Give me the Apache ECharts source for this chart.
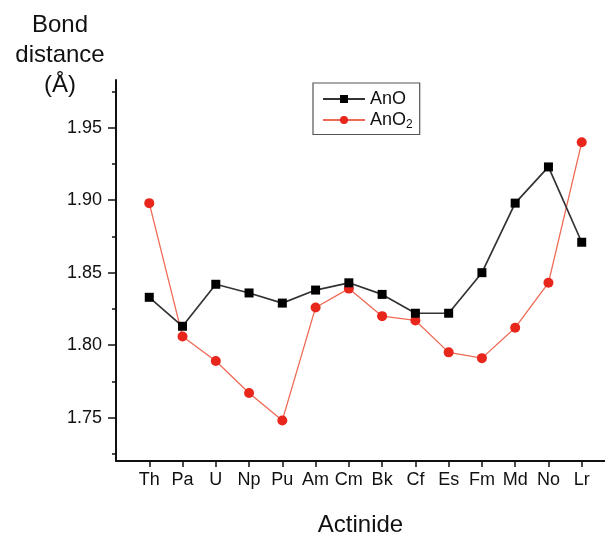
<!DOCTYPE html>
<html>
<head>
<meta charset="utf-8">
<script src="https://cdn.jsdelivr.net/npm/echarts@6/dist/echarts.min.js"></script>
<style>
html,body{margin:0;padding:0;background:#fff;}
#chart{width:605px;height:534px;}
</style>
</head>
<body>
<div id="chart"></div>
<script>
const categories = ['Th','Pa','U','Np','Pu','Am','Cm','Bk','Cf','Es','Fm','Md','No','Lr'];
const anO  = [1.833,1.813,1.842,1.836,1.829,1.838,1.843,1.835,1.822,1.822,1.850,1.898,1.923,1.871];
const anO2 = [1.898,1.806,1.789,1.767,1.748,1.826,1.839,1.820,1.817,1.795,1.791,1.812,1.843,1.940];
const yMajorTicks = [1.75,1.80,1.85,1.90,1.95];
const yMinorTicks = [1.725,1.775,1.825,1.875,1.925,1.975];
const seriesNames = ['AnO','AnO2'];

const FONT = 'Liberation Sans, Arial, sans-serif';
const chart = echarts.init(document.getElementById('chart'));
const idx = categories.map((_, i) => i);

chart.setOption({
  animation: false,
  backgroundColor: '#ffffff',
  textStyle: { fontFamily: FONT },
  grid: { left: 116, right: 0, top: 80, bottom: 73, containLabel: false, outerBoundsMode: 'none' },
  xAxis: {
    type: 'value', min: -1, max: 13.7,
    name: 'Actinide', nameLocation: 'middle', nameGap: 52,
    nameTextStyle: { fontSize: 24, color: '#111', fontFamily: FONT },
    axisLine: { show: true, onZero: false, lineStyle: { color: '#111', width: 2 } },
    axisTick: { show: true, customValues: idx, length: 6, inside: false, lineStyle: { color: '#111', width: 1.5 } },
    axisLabel: { customValues: idx, margin: 10, fontSize: 18, color: '#111', fontFamily: FONT,
      formatter: v => categories[Math.round(v)] || '' },
    splitLine: { show: false }
  },
  yAxis: [{
    type: 'value', min: 1.72, max: 1.983,
    axisLine: { show: true, onZero: false, lineStyle: { color: '#111', width: 2 } },
    axisTick: { show: true, customValues: yMajorTicks, length: 8, lineStyle: { color: '#111', width: 1.5 } },
    axisLabel: { customValues: yMajorTicks, margin: 14, fontSize: 18, color: '#111', fontFamily: FONT,
      formatter: v => v.toFixed(2) },
    splitLine: { show: false }
  }, {
    type: 'value', min: 1.72, max: 1.983, position: 'left',
    axisLine: { show: false, onZero: false },
    axisTick: { show: true, customValues: yMinorTicks, length: 4, lineStyle: { color: '#111', width: 1.5 } },
    axisLabel: { show: false },
    splitLine: { show: false }
  }],
  legend: {
    orient: 'vertical', left: 313, top: 83,
    data: seriesNames,
    itemWidth: 42, itemHeight: 10, itemGap: 3,
    padding: [7, 7, 4, 9],
    borderColor: '#555', borderWidth: 1.2, borderRadius: 0,
    textStyle: { fontSize: 18, color: '#111', fontFamily: FONT,
      rich: {
        m: { fontSize: 18, color: '#111', fontFamily: FONT },
        s: { fontSize: 12, color: '#111', fontFamily: FONT, padding: [9, 0, 0, 0] }
      } },
    formatter: name => name === 'AnO2' ? '{m|AnO}{s|2}' : '{m|' + name + '}'
  },
  series: [{
    name: 'AnO', type: 'line',
    data: anO.map((v, i) => [i, v]),
    symbol: 'rect', symbolSize: 9,
    itemStyle: { color: '#000000' },
    lineStyle: { color: '#333333', width: 1.7 },
    z: 3
  }, {
    name: 'AnO2', type: 'line',
    data: anO2.map((v, i) => [i, v]),
    symbol: 'circle', symbolSize: 10,
    itemStyle: { color: '#e8261c' },
    lineStyle: { color: '#ee6a55', width: 1.3 },
    z: 2
  }],
  graphic: [{
    type: 'text', x: 60, y: 10,
    style: {
      text: 'Bond\ndistance\n(Å)',
      align: 'center', verticalAlign: 'top',
      font: '24px ' + FONT, lineHeight: 30, fill: '#111'
    }
  }]
});
</script>
</body>
</html>
